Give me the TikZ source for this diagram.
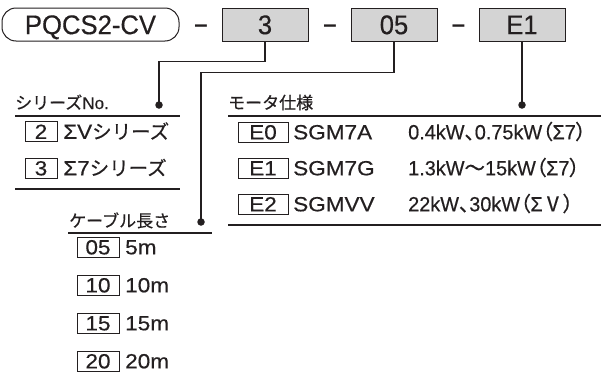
\documentclass[tikz,border=0pt]{standalone}
\usepackage{fontspec}
\setmainfont{Liberation Sans}
\newfontfamily\topf[FakeStretch=0.95,FakeBold=0.4]{Liberation Sans}
\newfontfamily\lat[FakeStretch=1.1,FakeBold=0.4]{Liberation Sans}
\newfontfamily\latp[FakeStretch=0.97,FakeBold=0.4]{Liberation Sans}
\newfontfamily\latn[FakeBold=0.3]{Liberation Sans}
\newfontfamily\jp[FakeBold=0.4]{Noto Sans CJK JP}
\newfontfamily\jpp[RawFeature=+palt,FakeBold=0.4]{Noto Sans CJK JP}
\definecolor{codegray}{HTML}{D4D4D4}
\definecolor{ink}{HTML}{231F20}
\begin{document}
\begin{tikzpicture}[x=1pt,y=-1pt,
  every node/.style={text=ink},
  code/.style={draw=ink, line width=1pt, fill=codegray, minimum width=86pt, minimum height=33pt,
    inner sep=0pt, font=\topf\fontsize{27}{27}\selectfont, text height=19.3pt, text depth=0pt},
  pill/.style={draw=ink, line width=1pt, rounded corners=14pt, minimum width=177pt, minimum height=33pt,
    inner sep=0pt, font=\topf\fontsize{27}{27}\selectfont, text height=19.3pt, text depth=0pt},
  dashsym/.style={inner sep=0pt, font=\bfseries\fontsize{24}{24}\selectfont},
  dot/.style={circle, fill=ink, inner sep=0pt, minimum size=7.5pt},
  conn/.style={draw=ink, line width=1.1pt},
  rule/.style={draw=ink, line width=1.5pt},
  head/.style={anchor=base west, inner sep=0pt, font=\jp\fontsize{17}{17}\selectfont},
  ibox/.style={draw=ink, line width=0.9pt, fill=white, minimum height=20pt, inner sep=0pt,
    font=\lat\fontsize{20.5}{20.5}\selectfont, text height=14.7pt, text depth=0pt},
  item/.style={anchor=base west, inner sep=0pt, font=\lat\fontsize{20.5}{20.5}\selectfont},
  itemp/.style={anchor=base west, inner sep=0pt, font=\latp\fontsize{20.5}{20.5}\selectfont}]
\useasboundingbox (0,0) rectangle (603,378);

% top code row
\node[pill] (pq) at (90.5,24.5) {PQCS2-CV};
\node[dashsym] (m1) at (201,28.5) {–};
\node[code] (b3) at (265,24.5) {3};
\node[dashsym] (m2) at (330,28.5) {–};
\node[code] (b05) at (394,24.5) {05};
\node[dashsym] (m3) at (458.5,28.5) {–};
\node[code] (bE1) at (522,24.5) {E1};

% dots
\node[dot] (d1) at (159,105) {};
\node[dot] (d2) at (201,222) {};
\node[dot] (d3) at (522,105) {};

% connectors
\draw[conn] (b3.south) -- ++(0,20) -| (d1.center);
\draw[conn] (b05.south) -- ++(0,31) -| (d2.center);
\draw[conn] (bE1.south) -- (d3.center);

% series section
\node[head] (hs) at (15,109) {シリーズ{\latn\fontsize{17}{17}\selectfont No.}};
\draw[rule] (15,116) -- (180,116);
\node[ibox, minimum width=32pt] (s2) at (41,131.5) {2};
\node[item] (s2t) at (63,138.8) {ΣV{\jp\fontsize{19.5}{19.5}\selectfont シリーズ}};
\node[ibox, minimum width=32pt] (s3) at (41,168) {3};
\node[item] (s3t) at (63,175.3) {Σ7{\jp\fontsize{19.5}{19.5}\selectfont シリーズ}};
\draw[rule] (15,189) -- (180,189);

% motor section
\node[head] (hm) at (228,109) {モータ仕様};
\draw[rule] (228,116) -- (601,116);
\node[ibox, minimum width=50pt] (e0) at (263,132) {E0};
\node[item] (e0m) at (293,139.3) {SGM7A};
\node[itemp] (e0p) at (408,139.3) {0.4kW{\jpp 、}0.75kW{\jpp （}Σ7{\jpp ）}};
\node[ibox, minimum width=50pt] (e1) at (263,168) {E1};
\node[item] (e1m) at (293,175.3) {SGM7G};
\node[itemp] (e1p) at (408,175.3) {1.3kW{\jp ～}15kW{\jpp （}Σ7{\jpp ）}};
\node[ibox, minimum width=50pt] (e2) at (263,204) {E2};
\node[item] (e2m) at (293,211.3) {SGMVV};
\node[itemp] (e2p) at (408,211.3) {22kW{\jpp 、}30kW{\jpp （}Σ{\jp Ⅴ}{\jpp ）}};
\draw[rule] (228,225) -- (601,225);

% cable section
\node[head] (hc) at (69,227) {ケーブル長さ};
\draw[rule] (68,233) -- (212,233);
\node[ibox, minimum width=42pt] (c05) at (98,247) {05};
\node[item] (c05t) at (125,254.3) {5m};
\node[ibox, minimum width=42pt] (c10) at (98,285) {10};
\node[item] (c10t) at (125,292.3) {10m};
\node[ibox, minimum width=42pt] (c15) at (98,323) {15};
\node[item] (c15t) at (125,330.3) {15m};
\node[ibox, minimum width=42pt] (c20) at (98,361) {20};
\node[item] (c20t) at (125,368.3) {20m};
\end{tikzpicture}
\end{document}
